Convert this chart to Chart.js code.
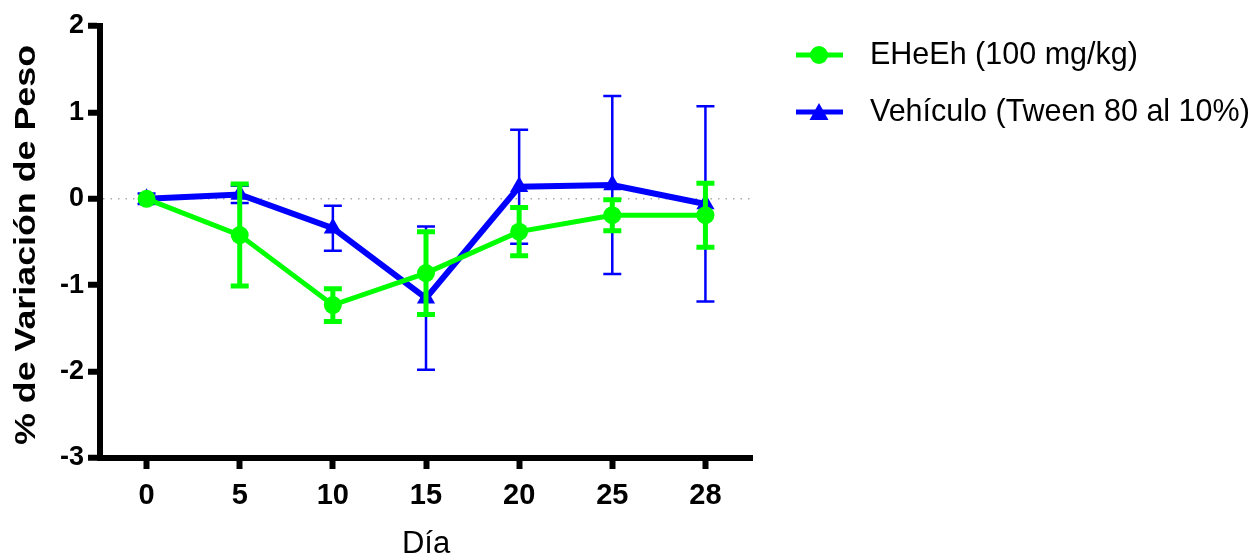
<!DOCTYPE html>
<html>
<head>
<meta charset="utf-8">
<script src="https://cdn.jsdelivr.net/npm/chart.js@4.4.0/dist/chart.umd.min.js"></script>
<style>
  html, body { margin: 0; padding: 0; background: #fff; }
  #wrap { width: 1259px; height: 558px; position: relative; }
</style>
</head>
<body>
<div id="wrap"><canvas id="myChart" width="1259" height="558"></canvas></div>
<script>
const days = ['0', '5', '10', '15', '20', '25', '28'];
const yTicks = [2, 1, 0, -1, -2, -3];
const yTitle = '% de Variación de Peso';

const ehehName = 'EHeEh (100 mg/kg)';
const ehehMean = [0, -0.42, -1.23, -0.86, -0.38, -0.19, -0.19];
const ehehErr = [0, 0.59, 0.19, 0.48, 0.28, 0.18, 0.37];

const vehName = 'Vehículo (Tween 80 al 10%)';
const vehMean = [0, 0.05, -0.34, -1.15, 0.14, 0.16, -0.06];
const vehErr = [0.06, 0.1, 0.26, 0.83, 0.66, 1.03, 1.13];

const errors = [ehehErr, vehErr];
const errStyle = [
    { width: 5, cap: 9 },
    { width: 2.5, cap: 9 }
];

const FONT = 'Arial, "Liberation Sans", sans-serif';

// error bars drawn right after each dataset, using the y scale
const errorBars = {
    id: 'errorBars',
    afterDatasetDraw(chart, args) {
        const i = args.index;
        const ds = chart.data.datasets[i];
        const y = chart.scales.y;
        const ctx = chart.ctx;
        ctx.save();
        ctx.strokeStyle = ds.borderColor;
        ctx.lineWidth = errStyle[i].width;
        const cap = errStyle[i].cap;
        args.meta.data.forEach((pt, j) => {
            const e = errors[i][j];
            if (!e) return;
            const top = y.getPixelForValue(ds.data[j] + e);
            const bot = y.getPixelForValue(ds.data[j] - e);
            ctx.beginPath();
            ctx.moveTo(pt.x, top);
            ctx.lineTo(pt.x, bot);
            ctx.moveTo(pt.x - cap, top);
            ctx.lineTo(pt.x + cap, top);
            ctx.moveTo(pt.x - cap, bot);
            ctx.lineTo(pt.x + cap, bot);
            ctx.stroke();
        });
        ctx.restore();
    }
};

// the original's axis title is a bit wider than plain Arial bold, so stretch it a little
const yTitlePlugin = {
    id: 'yTitlePlugin',
    afterDraw(chart) {
        const ctx = chart.ctx;
        const area = chart.chartArea;
        ctx.save();
        ctx.translate(35, (area.top + area.bottom) / 2 + 3);
        ctx.rotate(-Math.PI / 2);
        ctx.font = 'bold 30px ' + FONT;
        const w = ctx.measureText(yTitle).width;
        ctx.scale(400 / w, 1);
        ctx.fillStyle = '#000';
        ctx.textAlign = 'center';
        ctx.textBaseline = 'alphabetic';
        ctx.fillText(yTitle, 0, 0);
        ctx.restore();
    }
};

// legend on the right, line + marker like the original
const sideLegend = {
    id: 'sideLegend',
    afterDraw(chart) {
        const ctx = chart.ctx;
        const rows = [55, 112];
        ctx.save();
        chart.data.datasets.forEach((ds, i) => {
            const yy = rows[i];
            ctx.strokeStyle = ds.borderColor;
            ctx.lineWidth = 5;
            ctx.beginPath();
            ctx.moveTo(796, yy);
            ctx.lineTo(843, yy);
            ctx.stroke();
            ctx.fillStyle = ds.borderColor;
            ctx.beginPath();
            if (ds.pointStyle === 'triangle') {
                ctx.moveTo(819, yy - 9);
                ctx.lineTo(828.5, yy + 8);
                ctx.lineTo(809.5, yy + 8);
                ctx.closePath();
            } else {
                ctx.arc(819, yy, 9, 0, Math.PI * 2);
            }
            ctx.fill();
            ctx.fillStyle = '#000';
            ctx.font = '30.5px ' + FONT;
            ctx.textBaseline = 'middle';
            ctx.fillText(ds.label, 870, yy + 1);
        });
        ctx.restore();
    }
};

const ctx = document.getElementById('myChart').getContext('2d');
// eslint-disable-next-line no-undef
new Chart(ctx, {
    type: 'line',
    data: {
        labels: days,
        datasets: [{
            label: ehehName,
            data: ehehMean,
            borderColor: '#00ff00',
            backgroundColor: '#00ff00',
            borderWidth: 5,
            pointStyle: 'circle',
            pointRadius: 9,
            pointBorderWidth: 0,
            clip: false
        },
        {
            label: vehName,
            data: vehMean,
            borderColor: '#0000ff',
            backgroundColor: '#0000ff',
            borderWidth: 6,
            pointStyle: 'triangle',
            pointRadius: 10.5,
            pointBorderWidth: 0,
            clip: false
        }]
    },
    options: {
        responsive: false,
        animation: false,
        layout: { padding: { top: 26, right: 507, left: 0, bottom: 0 } },
        plugins: {
            legend: { display: false },
            tooltip: { enabled: false }
        },
        scales: {
            x: {
                type: 'category',
                offset: true,
                border: { display: true, color: '#000', width: 6 },
                grid: {
                    offset: false,
                    drawOnChartArea: false,
                    tickColor: '#000',
                    tickWidth: 6,
                    tickLength: 11
                },
                ticks: {
                    color: '#000',
                    padding: 10,
                    font: { family: FONT, size: 29, weight: 'bold' }
                },
                title: {
                    display: true,
                    text: 'Día',
                    color: '#000',
                    padding: { top: 0, bottom: -5 },
                    font: { family: FONT, size: 31 }
                },
                afterFit(scale) { scale.height = 100; }
            },
            y: {
                min: -3,
                max: 2,
                afterBuildTicks(scale) {
                    scale.ticks = yTicks.map(v => ({ value: v }));
                },
                border: { display: true, color: '#000', width: 6, dash: [1.5, 6] },
                grid: {
                    color: c => (c.tick && c.tick.value === 0) ? '#aaaaaa' : 'rgba(0,0,0,0)',
                    lineWidth: 1.5,
                    tickColor: '#000',
                    tickWidth: 6,
                    tickLength: 12,
                    tickBorderDash: []
                },
                ticks: {
                    color: '#000',
                    padding: 4,
                    font: { family: FONT, size: 27, weight: 'bold' }
                },
                afterFit(scale) { scale.width = 100; }
            }
        }
    },
    plugins: [errorBars, yTitlePlugin, sideLegend]
});
</script>
</body>
</html>
